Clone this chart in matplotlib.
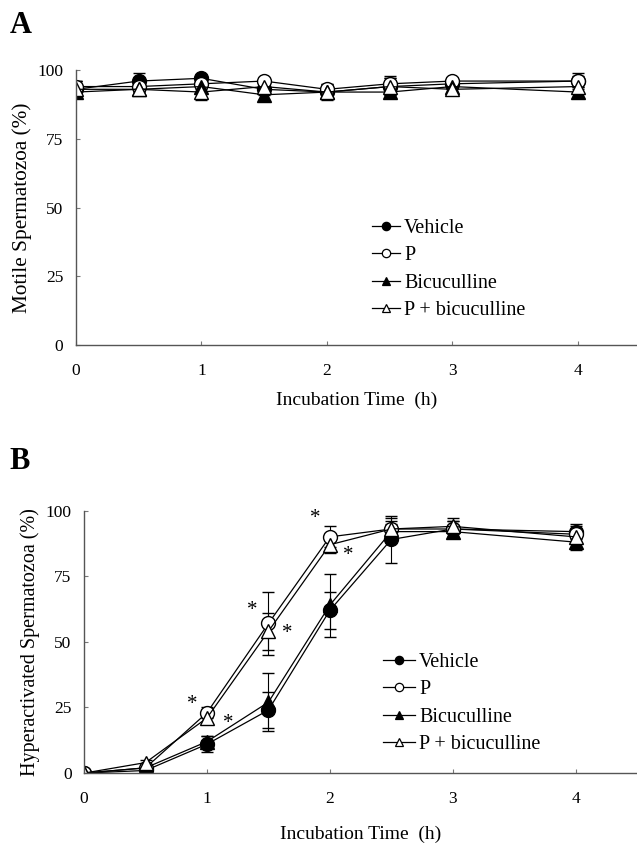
import numpy as np
import matplotlib
matplotlib.use("Agg")
import matplotlib.pyplot as plt
from matplotlib.lines import Line2D

# ---------------------------
# Data
# ---------------------------
hours = [0, 0.5, 1, 1.5, 2, 2.5, 3, 4]
series_names = ["Vehicle", "P", "Bicuculline", "P + bicuculline"]

# Panel A - motile spermatozoa (%)
motile_vehicle = [93, 96, 97, 93, 92, 94, 95, 96]
motile_vehicle_err = [3, 3, 1, 2, 2, 3, 2, 3]
motile_p = [94, 94, 95, 96, 93, 95, 96, 96]
motile_p_err = [2, 2, 2, 1, 2, 3, 1, 2]
motile_bic = [92, 93, 94, 91, 92, 92, 94, 92]
motile_bic_err = [2, 2, 2, 2, 2, 2, 2, 2]
motile_pbic = [93, 93, 92, 94, 92, 94, 93, 94]
motile_pbic_err = [3, 2, 3, 2, 3, 3, 2, 2]

# Panel B - hyperactivated spermatozoa (%)
hyper_vehicle = [0, 1, 11, 24, 62, 89, 93, 92]
hyper_vehicle_err = [0, 1, 3, 7, 7, 9, 3, 3]
hyper_p = [0, 2, 23, 57, 90, 93, 93, 91]
hyper_p_err = [0, 1, 2, 12, 4, 3, 3, 3]
hyper_bic = [0, 2, 12, 27, 64, 92, 92, 88]
hyper_bic_err = [0, 1, 2, 11, 12, 3, 2, 3]
hyper_pbic = [0, 4, 21, 54, 87, 93, 94, 90]
hyper_pbic_err = [0, 1, 2, 7, 3, 4, 3, 2]

# significance stars (x, y)
star_x = [0.88, 1.17, 1.37, 1.65, 1.88, 2.15]
star_y = [26, 19, 62, 53, 97, 83]

# ---------------------------
# Styling
# ---------------------------
plt.rcParams['font.family'] = ['Liberation Serif', 'DejaVu Serif']
styles = [
    dict(marker='o', mfc='black'),
    dict(marker='o', mfc='white'),
    dict(marker='^', mfc='black'),
    dict(marker='^', mfc='white'),
]


def draw_panel(ax, values, errors, xmax, ylabel, ylsize, xlpad,
               legend_loc, hlen):
    for name, y, e, st in zip(series_names, values, errors, styles):
        ax.errorbar(hours, y, yerr=e, color='black', lw=0.9, ms=10,
                    mec='black', mew=1.0, capsize=4, elinewidth=0.8,
                    capthick=0.8, **st)
    ax.set_xlim(0, xmax)
    ax.set_ylim(0, 100)
    ax.set_xticks([0, 1, 2, 3, 4])
    ax.set_yticks([0, 25, 50, 75, 100])
    ax.tick_params(direction='in', length=3, width=0.8, color='#777777',
                   labelsize=12.5)
    ax.tick_params(axis='x', pad=13)
    ax.tick_params(axis='y', pad=9)
    for s in ['top', 'right']:
        ax.spines[s].set_visible(False)
    for s in ['left', 'bottom']:
        ax.spines[s].set_color('#555555')
        ax.spines[s].set_linewidth(1.0)
    ax.set_xlabel("Incubation Time  (h)", fontsize=14, labelpad=xlpad)
    ax.set_ylabel(ylabel, fontsize=ylsize, labelpad=4)
    handles = [Line2D([], [], color='black', lw=0.9, ms=6, mec='black',
                      mew=0.9, **st) for st in styles]
    ax.legend(handles, series_names, loc='upper left',
              bbox_to_anchor=legend_loc, frameon=False, fontsize=14.5,
              handlelength=hlen, handletextpad=0.2, labelspacing=0.42,
              borderaxespad=0)
    return ax


fig = plt.figure(figsize=(6.37, 8.44), dpi=100)

# Panel A
axA = fig.add_axes([0.119, 0.591, 0.881, 0.326])
draw_panel(axA, [motile_vehicle, motile_p, motile_bic, motile_pbic],
           [motile_vehicle_err, motile_p_err, motile_bic_err, motile_pbic_err],
           4.47, "Motile Spermatozoa (%)", 15.3, 9, (0.513, 0.489), 1.4)
fig.text(0.015, 0.970, "A", fontsize=22, fontweight='bold', va='center')

# Panel B
axB = fig.add_axes([0.132, 0.084, 0.868, 0.311])
draw_panel(axB, [hyper_vehicle, hyper_p, hyper_bic, hyper_pbic],
           [hyper_vehicle_err, hyper_p_err, hyper_bic_err, hyper_pbic_err],
           4.5, "Hyperactivated Spermatozoa (%)", 14.5, 13, (0.526, 0.49), 1.6)
fig.text(0.015, 0.453, "B", fontsize=22, fontweight='bold', va='center')
for sx, sy in zip(star_x, star_y):
    axB.text(sx, sy, "*", fontsize=15, ha='center', va='center')

fig.savefig("out.png", dpi=100)
